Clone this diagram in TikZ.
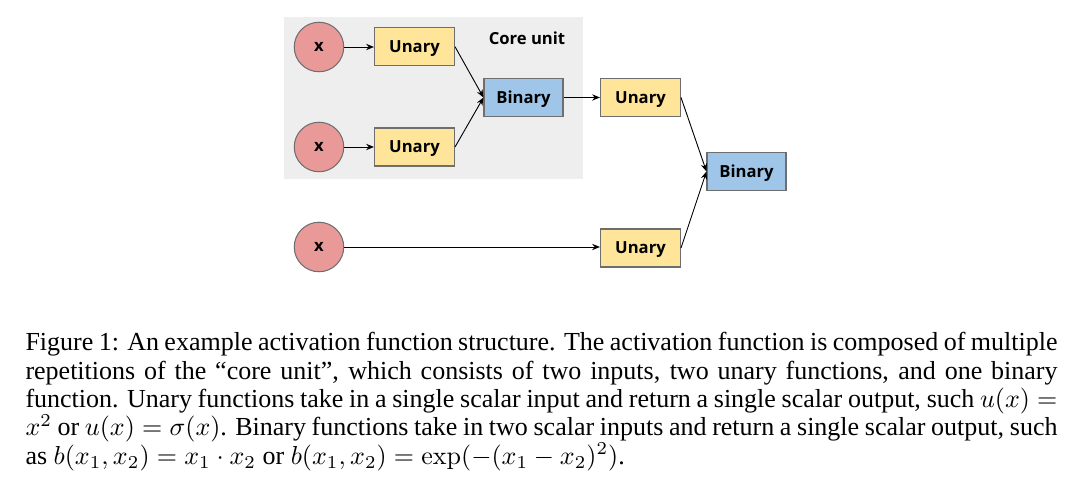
\documentclass[tikz,border=0pt]{standalone}
\usepackage[no-math]{fontspec}
\setmainfont{Liberation Serif}
\newfontfamily\diagfont{Open Sans}
\usetikzlibrary{arrows.meta}
\definecolor{bggray}{HTML}{EEEEEE}
\definecolor{xred}{HTML}{EA9999}
\definecolor{uyel}{HTML}{FFE599}
\definecolor{bblue}{HTML}{9FC5E8}
\definecolor{edgegray}{HTML}{6E6E6E}
\tikzset{
  dfont/.style={font=\diagfont\bfseries\fontsize{6.4}{7}\selectfont, text height=4.6pt, text depth=0pt},
  inp/.style={circle, draw=edgegray, line width=0.4pt, fill=xred, minimum size=49.5*0.3846pt, inner sep=0pt, dfont, text height=3.4pt},
  unbox/.style={rectangle, draw=edgegray, line width=0.4pt, fill=uyel, minimum width=80*0.3846pt, minimum height=38*0.3846pt, inner sep=0pt, dfont},
  binbox/.style={rectangle, draw=edgegray, line width=0.4pt, fill=bblue, minimum width=79*0.3846pt, minimum height=38*0.3846pt, inner sep=0pt, dfont},
  conn/.style={-{Stealth[length=3pt,width=2.4pt]}, line width=0.35pt, black},
}
\begin{document}
\begin{tikzpicture}[x=0.3846pt, y=-0.3846pt]
\useasboundingbox (0,0) rectangle (1087,491);
\fill[bggray] (284,17) rectangle (583,179);
\node[dfont, inner sep=0pt] (core) at (527,39) {Core unit};
\node[inp] (x1) at (319,47) {x};
\node[inp] (x2) at (319,147) {x};
\node[inp] (x3) at (319,247) {x};
\node[unbox] (u1) at (414.5,46.7) {Unary};
\node[unbox] (u2) at (414.5,147) {Unary};
\node[binbox] (b1) at (523.5,97.5) {Binary};
\node[unbox] (u3) at (640.5,97.5) {Unary};
\node[unbox] (u4) at (640.5,248) {Unary};
\node[binbox] (b2) at (746.5,171.5) {Binary};
\draw[conn] (x1) -- (u1.west |- x1);
\draw[conn] (x2) -- (u2.west |- x2);
\draw[conn] (x3) -- (u4.west |- x3);
\draw[conn] (u1.east) -- (b1.west);
\draw[conn] (u2.east) -- (b1.west);
\draw[conn] (b1.east) -- (u3.west);
\draw[conn] (u3.east) -- (b2.west);
\draw[conn] (u4.east) -- (b2.west);
\node[anchor=north west, inner sep=0pt, text width=1032*0.3846pt, align=justify, font=\fontsize{10}{10.9}\selectfont] (cap) at (25,332)
{Figure 1: An example activation function structure. The activation function is composed of multiple\linebreak
repetitions of the ``core unit'', which consists of two inputs, two unary functions, and one binary\linebreak
function. Unary functions take in a single scalar input and return a single scalar output, such $u(x) =$\linebreak
$x^2$ or $u(x) = \sigma(x)$. Binary functions take in two scalar inputs and return a single scalar output, such\linebreak
as $b(x_1, x_2) = x_1 \cdot x_2$ or $b(x_1, x_2) = \exp(-(x_1 - x_2)^2)$.};
\end{tikzpicture}
\end{document}
